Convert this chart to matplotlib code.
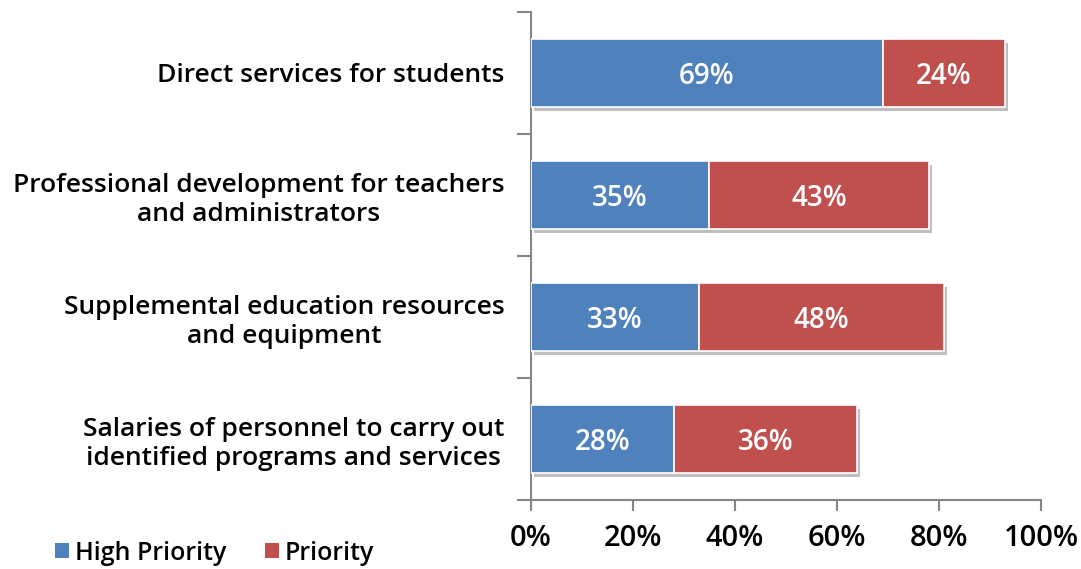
import matplotlib
matplotlib.use("Agg")
import matplotlib.pyplot as plt
import matplotlib.patheffects as pe
from matplotlib.patches import Patch

categories = [
    "Direct services for students",
    "Professional development for teachers\nand administrators",
    "Supplemental education resources\nand equipment",
    "Salaries of personnel to carry out\nidentified programs and services",
]
high_priority = [69, 35, 33, 28]
priority = [24, 43, 48, 36]
series_names = ["High Priority", "Priority"]
x_ticks = [0, 20, 40, 60, 80, 100]

blue = "#4F81BD"
red = "#C0504D"
axis_gray = "#868686"
fw = "semibold"

plt.rcParams["font.family"] = ["Open Sans", "DejaVu Sans"]

fig = plt.figure(figsize=(10.81, 5.69), dpi=100)
ax = fig.add_axes([0.491, 0.121, 0.472, 0.858])

ypos = list(range(len(categories)))
shadow = [pe.SimplePatchShadow(offset=(2, -3), shadow_rgbFace="#000000", alpha=0.25), pe.Normal()]

ax.barh(ypos, high_priority, height=0.56, color=blue, edgecolor="white",
        linewidth=1.2, path_effects=shadow, zorder=3)
ax.barh(ypos, priority, left=high_priority, height=0.56, color=red,
        edgecolor="white", linewidth=1.2, path_effects=shadow, zorder=3)

for y, h, p in zip(ypos, high_priority, priority):
    ax.text(h / 2, y, f"{h}%", ha="center", va="center_baseline", color="white",
            fontsize=20, fontweight=fw, zorder=5)
    ax.text(h + p / 2, y, f"{p}%", ha="center", va="center_baseline", color="white",
            fontsize=20, fontweight=fw, zorder=5)

ax.set_xlim(0, 100)
ax.set_ylim(len(categories) - 0.5, -0.5)
ax.set_xticks(x_ticks)
ax.set_xticklabels([f"{t}%" for t in x_ticks], fontsize=21, fontweight=fw)
ax.set_yticks(ypos)
ax.set_yticklabels(categories, fontsize=19, fontweight=fw, multialignment="center",
                   linespacing=1.2)
ax.set_yticks([i - 0.5 for i in range(len(categories) + 1)], minor=True)

ax.tick_params(axis="y", which="major", length=0, pad=19)
ax.tick_params(axis="y", which="minor", length=10, width=1.5, color=axis_gray, direction="out")
ax.tick_params(axis="x", which="major", length=8, width=1.5, color=axis_gray, direction="out", pad=9)

for side in ["top", "right"]:
    ax.spines[side].set_visible(False)
for side in ["left", "bottom"]:
    ax.spines[side].set_color(axis_gray)
    ax.spines[side].set_linewidth(1.5)

handles = [Patch(facecolor=blue, label=series_names[0]), Patch(facecolor=red, label=series_names[1])]
fig.legend(handles=handles, loc="center left", bbox_to_anchor=(0.030, 0.028), ncol=2,
           frameon=False, handlelength=0.55, handleheight=0.55,
           handletextpad=0.25, columnspacing=1.55, prop={"weight": fw, "size": 18})

fig.savefig("out.png", dpi=100)
